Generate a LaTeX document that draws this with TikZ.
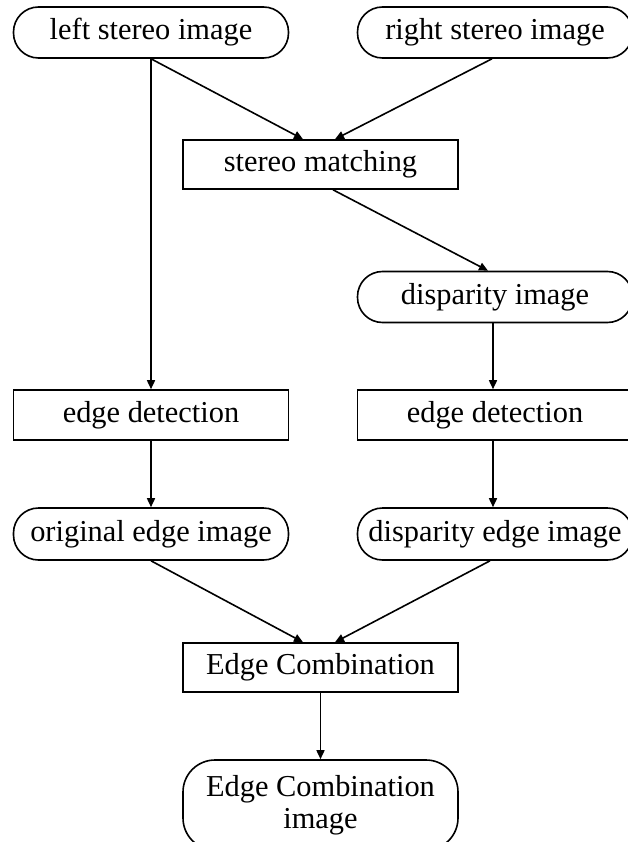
\documentclass[tikz,border=0pt]{standalone}
\usepackage{fontspec}
\setmainfont{Liberation Serif}
\usetikzlibrary{arrows.meta,calc}
\begin{document}
\begin{tikzpicture}[x=1pt,y=-1pt,
  every node/.style={font=\fontsize{30.4}{32}\selectfont},
  procbox/.style={draw,line width=1.6pt,minimum width=275pt,minimum height=49pt,inner sep=0pt},
  termbox/.style={draw,line width=1.6pt,rounded corners=25pt,minimum width=275pt,minimum height=51pt,inner sep=0pt},
  conn/.style={line width=1.6pt,-{Triangle[length=9pt,width=8pt]}}]
\useasboundingbox (0,0) rectangle (627,842);
\node[termbox] (L) at (151,32.5) {left stereo image};
\node[termbox] (R) at (495,32.5) {right stereo image};
\node[procbox] (SM) at (320.5,164.5) {stereo matching};
\node[termbox] (D) at (495,297) {disparity image};
\node[procbox,minimum height=50pt] (ED1) at (151,415) {edge detection};
\node[procbox,minimum height=50pt] (ED2) at (495,415) {edge detection};
\node[termbox,minimum height=52pt] (OE) at (151,534) {original edge image};
\node[termbox,minimum height=52pt] (DE) at (495,534) {disparity edge image};
\node[procbox] (EC) at (320.5,667.5) {Edge Combination};
\node[termbox,rounded corners=32pt,minimum height=90pt,align=center] (ECI) at (320.5,805) {Edge Combination\\image};
\draw[conn] (L.south) -- ($(SM.north)+(-17.5,0)$);
\draw[conn] ($(R.south)+(-3,0)$) -- ($(SM.north)+(14.5,0)$);
\draw[conn] ($(SM.south)+(12.5,0)$) -- ($(D.north)+(-7,0)$);
\draw[conn] (L.south) -- (ED1.north);
\draw[conn] ($(D.south)+(-2,0)$) -- ($(ED2.north)+(-2,0)$);
\draw[conn] (ED1.south) -- (OE.north);
\draw[conn] ($(ED2.south)+(-2,0)$) -- ($(DE.north)+(-2,0)$);
\draw[conn] (OE.south) -- ($(EC.north)+(-17.5,0)$);
\draw[conn] ($(DE.south)+(-5,0)$) -- ($(EC.north)+(14.5,0)$);
\draw[conn] (EC.south) -- (ECI.north);
\end{tikzpicture}
\end{document}
